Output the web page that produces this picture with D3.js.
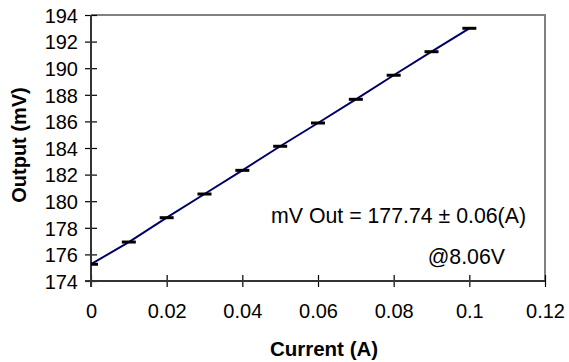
<!DOCTYPE html>
<html>
<head>
<meta charset="utf-8">
<script src="https://cdn.jsdelivr.net/npm/d3@7"></script>
<style>
  html, body { margin: 0; padding: 0; background: #fff; }
  svg text { font-family: "Liberation Sans", Arial, sans-serif; fill: #000; }
</style>
</head>
<body>
<svg id="chart" width="569" height="362"></svg>
<script>
// Data
const current = [0, 0.01, 0.02, 0.03, 0.04, 0.05, 0.06, 0.07, 0.08, 0.09, 0.1];
const outputMV = [175.26, 176.93, 178.76, 180.54, 182.32, 184.13, 185.88, 187.66, 189.47, 191.24, 193.0];
const xTicks = [0, 0.02, 0.04, 0.06, 0.08, 0.1, 0.12];
const xTickLabels = ["0", "0.02", "0.04", "0.06", "0.08", "0.1", "0.12"];
const yTicks = [174, 176, 178, 180, 182, 184, 186, 188, 190, 192, 194];
const xTitle = "Current (A)";
const yTitle = "Output (mV)";
const annotations = ["mV Out = 177.74 ± 0.06(A)", "@8.06V"];

const svg = d3.select("#chart");
const L = 91, R = 545, T = 15, B = 281;
const x = d3.scaleLinear().domain([0, 0.12]).range([L, R]);
const y = d3.scaleLinear().domain([174, 194]).range([B, T]);

svg.append("defs").append("clipPath").attr("id", "clip")
  .append("rect").attr("x", L).attr("y", T).attr("width", R - L).attr("height", B - T);

// top and right frame
svg.append("path")
  .attr("d", `M${L},${T}H${R}V${B}`)
  .attr("fill", "none").attr("stroke", "#808080").attr("stroke-width", 2);

// axes
const fontSize = 20;
const xAxis = d3.axisBottom(x).tickValues(xTicks).tickSize(6)
  .tickFormat((d, i) => xTickLabels[i]);
const gx = svg.append("g").attr("transform", `translate(0,${B})`).call(xAxis);
gx.select(".domain").remove();
gx.selectAll(".tick line").attr("y1", -6).attr("y2", 6).attr("stroke", "#000").attr("stroke-width", 1.2);
gx.selectAll(".tick text").attr("y", 37).attr("dy", null)
  .style("font-size", fontSize + "px");

const yAxis = d3.axisLeft(y).tickValues(yTicks).tickSize(6).tickFormat(d3.format("d"));
const gy = svg.append("g").attr("transform", `translate(${L},0)`).call(yAxis);
gy.select(".domain").remove();
gy.selectAll(".tick line").attr("x1", -6).attr("x2", 6).attr("stroke", "#000").attr("stroke-width", 1.2);
gy.selectAll(".tick text").attr("x", -13).attr("dy", "0.36em")
  .style("text-anchor", "end")
  .style("font-size", fontSize + "px");

// axis lines
svg.append("line").attr("x1", L).attr("x2", L).attr("y1", T).attr("y2", B + 6)
  .attr("stroke", "#333").attr("stroke-width", 2);
svg.append("line").attr("x1", L - 6).attr("x2", R).attr("y1", B).attr("y2", B)
  .attr("stroke", "#333").attr("stroke-width", 2);

// line
const plot = svg.append("g").attr("clip-path", "url(#clip)");
plot.append("path")
  .datum(current.map((c, i) => [c, outputMV[i]]))
  .attr("d", d3.line().x(d => x(d[0])).y(d => y(d[1])))
  .attr("fill", "none").attr("stroke", "#000066").attr("stroke-width", 2);

// markers (horizontal dashes)
plot.selectAll("line.mk").data(current).enter().append("line")
  .attr("class", "mk")
  .attr("x1", d => x(d) - 7).attr("x2", d => x(d) + 7)
  .attr("y1", (d, i) => y(outputMV[i])).attr("y2", (d, i) => y(outputMV[i]))
  .attr("stroke", "#000").attr("stroke-width", 3);

// titles
svg.append("text").attr("transform", "translate(324,356)")
  .attr("text-anchor", "middle").style("font-weight", "bold").style("font-size", "20.5px")
  .text(xTitle);
svg.append("text").attr("transform", "translate(26,145) rotate(-90)")
  .attr("text-anchor", "middle").style("font-weight", "bold").style("font-size", "20px")
  .text(yTitle);

// annotations
svg.append("text").attr("transform", "translate(526,223)")
  .attr("text-anchor", "end").style("font-size", "21.3px").text(annotations[0]);
svg.append("text").attr("transform", "translate(505,264)")
  .attr("text-anchor", "end").style("font-size", "21.3px").text(annotations[1]);
</script>
</body>
</html>
